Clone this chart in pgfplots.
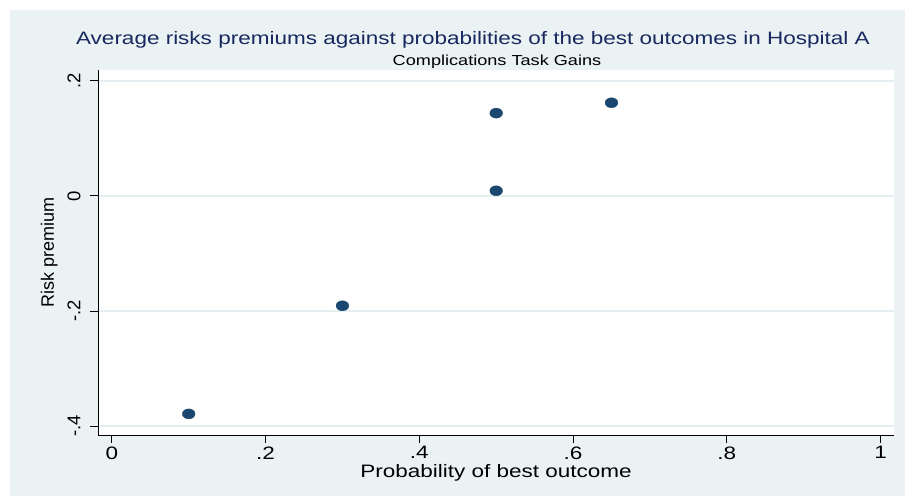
\documentclass[border=0pt]{standalone}
\usepackage{pgfplots}
\pgfplotsset{compat=1.18}
\usepackage{fontspec}
\setmainfont[FakeStretch=1.25]{Liberation Sans}
\newfontfamily\plainfont{Liberation Sans}
\definecolor{bgcol}{RGB}{234,242,243}
\definecolor{gridcol}{RGB}{228,237,240}
\definecolor{navy}{RGB}{26,71,111}
\definecolor{titlecol}{RGB}{25,40,95}
\begin{document}
\begin{tikzpicture}[x=1pt,y=1pt]
\useasboundingbox (0,0) rectangle (905,496);
\fill[white] (0,0) rectangle (905,496);
\fill[bgcol] (10,0) rectangle (905,486);
\node[text=titlecol, font=\fontsize{18}{20}\selectfont, anchor=base] at (473,451) {Average risks premiums against probabilities of the best outcomes in Hospital A};
\node[text=black, font=\fontsize{14.5}{16}\selectfont, anchor=base] at (497,430) {Complications Task Gains};
\begin{axis}[
  at={(98pt,61pt)}, anchor=south west,
  scale only axis, width=796pt, height=365pt,
  xmin=-0.018, xmax=1.0175, ymin=-0.4157, ymax=0.219,
  axis lines*=left,
  axis line style={black, line width=0.9pt, -},
  axis background/.style={fill=white},
  xtick={0,0.2,0.4,0.6,0.8,1},
  xticklabels={0,.2,.4,.6,.8,1},
  ytick={-0.4,-0.2,0,0.2},
  yticklabels={-.4,-.2,0,.2},
  tick align=outside,
  major tick length=8pt,
  tick style={black, line width=0.9pt},
  ymajorgrids,
  grid style={gridcol, line width=1.6pt},
  ticklabel style={font=\fontsize{18}{20}\selectfont},
  yticklabel style={rotate=90, anchor=south, font=\plainfont\fontsize{18.5}{20}\selectfont, yshift=6pt},
  /pgf/number format/assume math mode=true,
  xlabel={Probability of best outcome},
  ylabel={Risk premium},
  label style={font=\fontsize{18}{20}\selectfont},
  ylabel style={font=\plainfont\fontsize{18}{20}\selectfont, yshift=3pt},
  xlabel style={yshift=2pt},
  clip=false,
]
\addplot[only marks, mark=*, mark size=5pt, mark options={fill=navy, draw=navy, xscale=1.27}] coordinates {
  (0.1,-0.379) (0.3,-0.191) (0.5,0.144) (0.5,0.009) (0.65,0.162)
};
\end{axis}
\end{tikzpicture}
\end{document}
